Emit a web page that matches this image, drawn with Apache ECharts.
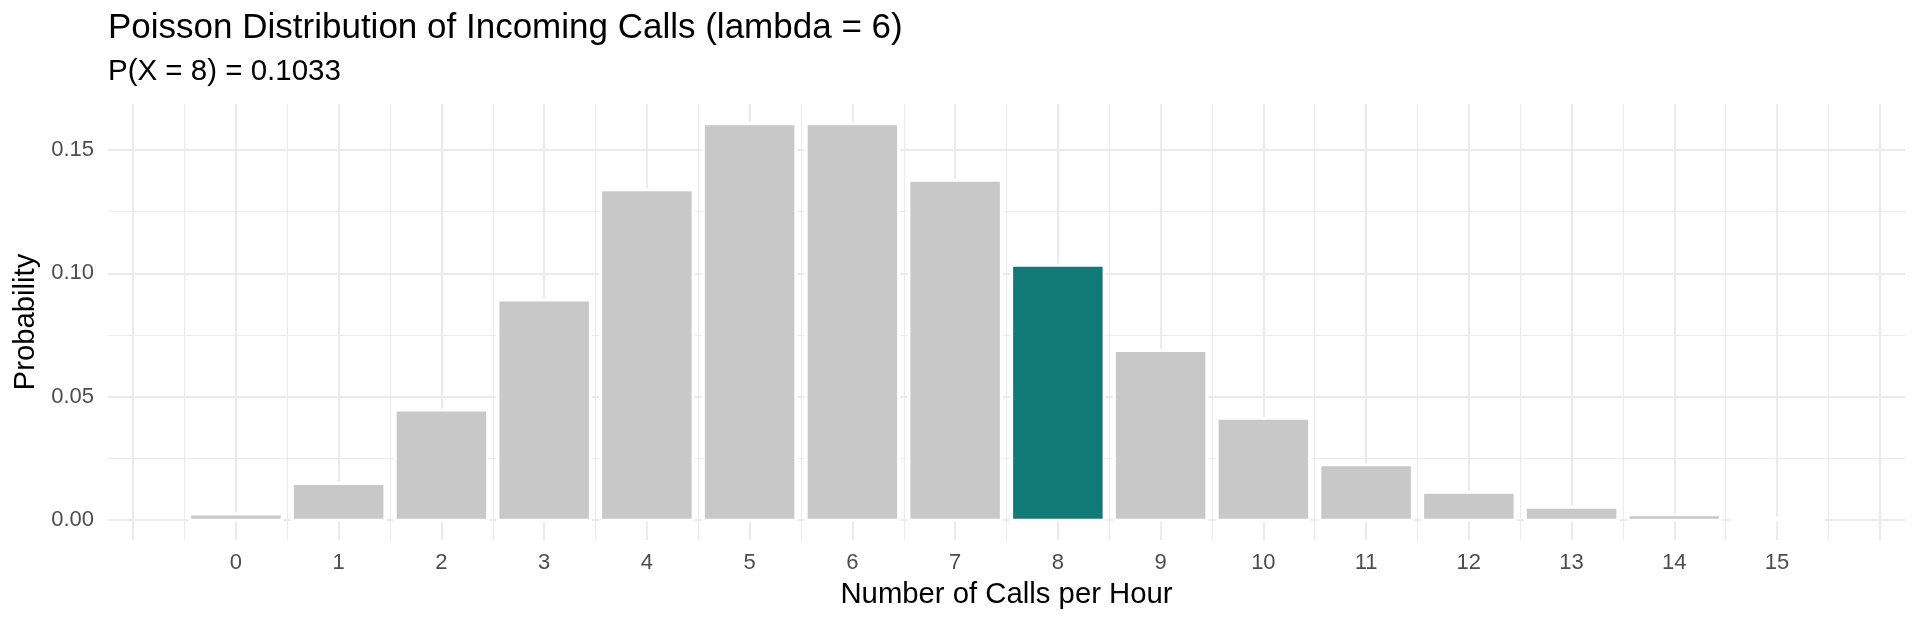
<!DOCTYPE html>
<html>
<head>
<meta charset="utf-8">
<script src="https://cdn.jsdelivr.net/npm/echarts@6/dist/echarts.min.js"></script>
<style>
  html, body { margin: 0; padding: 0; background: #ffffff; }
  #chart { width: 1920px; height: 624px; }
</style>
</head>
<body>
<div id="chart"></div>
<script>
// ---- data ----
const calls = [0, 1, 2, 3, 4, 5, 6, 7, 8, 9, 10, 11, 12, 13, 14, 15];
const probabilities = [0.0025, 0.0149, 0.0446, 0.0892, 0.1339, 0.1606, 0.1606, 0.1377,
                       0.1033, 0.0688, 0.0413, 0.0225, 0.0113, 0.0052, 0.0022, 0.0009];
const highlightCall = 8;
const xTickLabels = [0, 1, 2, 3, 4, 5, 6, 7, 8, 9, 10, 11, 12, 13, 14, 15];
const xMajorGrid = [-1, 0, 1, 2, 3, 4, 5, 6, 7, 8, 9, 10, 11, 12, 13, 14, 15, 16];
const xMinorGrid = [-0.5, 0.5, 1.5, 2.5, 3.5, 4.5, 5.5, 6.5, 7.5, 8.5, 9.5, 10.5, 11.5, 12.5, 13.5, 14.5, 15.5];
const yTickLabels = [0, 0.05, 0.10, 0.15];
const yMinorGrid = [0.025, 0.075, 0.125];
const titleText = 'Poisson Distribution of Incoming Calls (lambda = 6)';
const subtitleText = 'P(X = 8) = 0.1033';

// ---- style constants ----
const BAR_W = 0.9;
const FONT = "'Liberation Sans', Arial, Helvetica, sans-serif";
const GRID_COLOR = '#EBEBEB';

// ggplot-like expansion (5%)
const xLo = Math.min(...calls) - BAR_W / 2, xHi = Math.max(...calls) + BAR_W / 2;
const xPad = (xHi - xLo) * 0.05;
const yLo = 0, yHi = Math.max(...probabilities);
const yPad = (yHi - yLo) * 0.05;

const seriesData = calls.map((c, i) => [c, probabilities[i]]);

const chart = echarts.init(document.getElementById('chart'), null, { renderer: 'canvas' });
chart.setOption({
  animation: false,
  backgroundColor: '#ffffff',
  textStyle: { fontFamily: FONT },
  title: [
    { text: titleText, left: 108, top: 11, padding: 0,
      textStyle: { fontFamily: FONT, fontSize: 35, fontWeight: 'normal', color: '#000000' } },
    { text: subtitleText, left: 108, top: 57, padding: 0,
      textStyle: { fontFamily: FONT, fontSize: 29.5, fontWeight: 'normal', color: '#000000' } }
  ],
  grid: { left: 108, right: 15, top: 104, bottom: 84, containLabel: false, outerBoundsMode: 'none' },
  xAxis: [
    {
      type: 'value', min: xLo - xPad, max: xHi + xPad, position: 'bottom',
      name: 'Number of Calls per Hour', nameLocation: 'middle', nameGap: 40,
      nameTextStyle: { fontFamily: FONT, fontSize: 29.3, color: '#000000' },
      axisLine: { show: false },
      axisTick: { show: false, customValues: xMajorGrid },
      axisLabel: { customValues: xTickLabels, fontFamily: FONT, fontSize: 22, color: '#4D4D4D', margin: 12 },
      splitLine: { show: true, lineStyle: { color: GRID_COLOR, width: 2.2 } }
    },
    {
      type: 'value', min: xLo - xPad, max: xHi + xPad, position: 'bottom',
      axisLine: { show: false },
      axisTick: { show: false, customValues: xMinorGrid },
      axisLabel: { show: false },
      splitLine: { show: true, lineStyle: { color: GRID_COLOR, width: 1.1 } }
    }
  ],
  yAxis: [
    {
      type: 'value', min: yLo - yPad, max: yHi + yPad, position: 'left',
      name: 'Probability', nameLocation: 'middle', nameRotate: 90, nameGap: 66,
      nameTextStyle: { fontFamily: FONT, fontSize: 29.3, color: '#000000' },
      axisLine: { show: false },
      axisTick: { show: false, customValues: yTickLabels },
      axisLabel: { customValues: yTickLabels, fontFamily: FONT, fontSize: 22, color: '#4D4D4D', margin: 14,
                   formatter: v => v.toFixed(2) },
      splitLine: { show: true, lineStyle: { color: GRID_COLOR, width: 2.2 } }
    },
    {
      type: 'value', min: yLo - yPad, max: yHi + yPad, position: 'left',
      axisLine: { show: false },
      axisTick: { show: false, customValues: yMinorGrid },
      axisLabel: { show: false },
      splitLine: { show: true, lineStyle: { color: GRID_COLOR, width: 1.1 } }
    }
  ],
  series: [{
    type: 'custom',
    xAxisIndex: 0, yAxisIndex: 0,
    data: seriesData,
    renderItem: function (params, api) {
      const x = api.value(0), y = api.value(1);
      const pTop = api.coord([x - BAR_W / 2, y]);
      const pBot = api.coord([x + BAR_W / 2, 0]);
      return {
        type: 'rect',
        shape: { x: pTop[0], y: pTop[1], width: pBot[0] - pTop[0], height: pBot[1] - pTop[1] },
        style: { fill: x === highlightCall ? '#127A76' : '#C8C8C8', stroke: '#FFFFFF', lineWidth: 3 }
      };
    },
    encode: { x: 0, y: 1 }
  }]
});
</script>
</body>
</html>
